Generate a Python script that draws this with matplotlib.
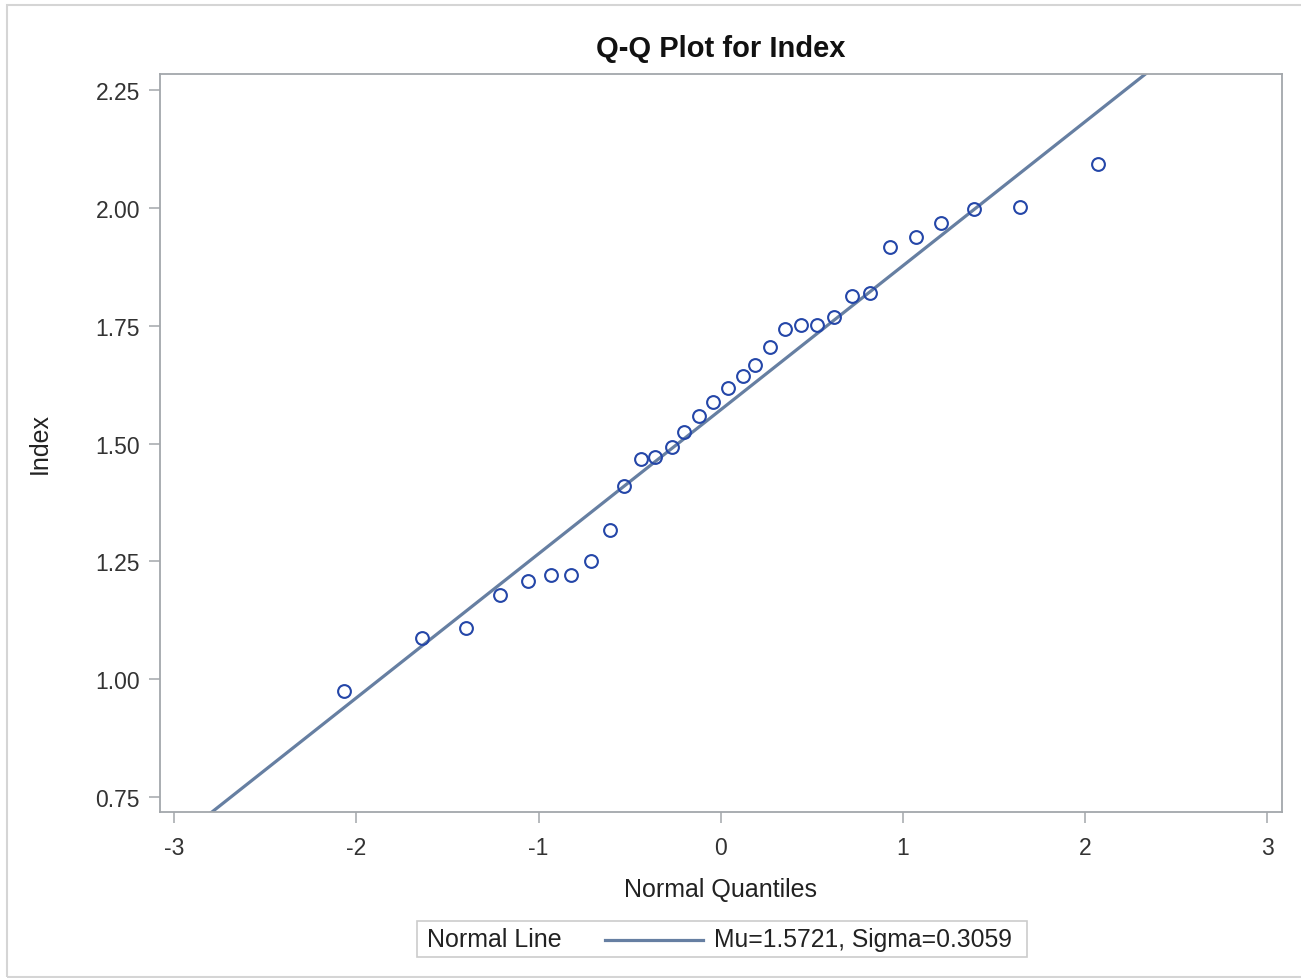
import matplotlib.pyplot as plt
from matplotlib.patches import Rectangle
from matplotlib.lines import Line2D

plt.rcParams['font.family'] = ['Liberation Sans', 'DejaVu Sans']

# quantiles normales (axe x) et valeurs observées (axe y)
quantiles = [-2.07, -1.64, -1.40, -1.21, -1.06, -0.93, -0.82, -0.71,
             -0.61, -0.53, -0.44, -0.36, -0.27, -0.20, -0.12, -0.04,
             0.04, 0.12, 0.19, 0.27, 0.35, 0.44, 0.53, 0.62,
             0.72, 0.82, 0.93, 1.07, 1.21, 1.39, 1.64, 2.07]
index_vals = [0.975, 1.087, 1.109, 1.178, 1.208, 1.221, 1.221, 1.251,
              1.316, 1.410, 1.467, 1.471, 1.493, 1.524, 1.558, 1.588,
              1.618, 1.643, 1.667, 1.705, 1.743, 1.751, 1.751, 1.768,
              1.813, 1.821, 1.917, 1.938, 1.968, 1.998, 2.002, 2.093]
mu = 1.5721
sigma = 0.3059

x_ticks = [-3, -2, -1, 0, 1, 2, 3]
y_ticks = [0.75, 1.00, 1.25, 1.50, 1.75, 2.00, 2.25]

W, H = 1301, 979
fig = plt.figure(figsize=(W / 100, H / 100), dpi=100)
ax = fig.add_axes([159.5 / W, 1 - 813 / H, (1282 - 159.5) / W, (813 - 75) / H])

line_color = '#667fa2'
dot_color = '#2446a8'
grey = '#a3a7ab'

# droite normale
xl = [-3.25, 3.25]
ax.plot(xl, [mu + sigma * v for v in xl], color=line_color, lw=2.3, zorder=2)
ax.plot(quantiles, index_vals, 'o', ms=9.2, mfc='none', mec=dot_color, mew=1.5, zorder=3)

ax.set_xlim(-3.08, 3.08)
ax.set_ylim(0.718, 2.285)
ax.set_xticks(x_ticks)
ax.set_xticklabels([str(t) for t in x_ticks])
ax.set_yticks(y_ticks)
ax.set_yticklabels(['%.2f' % t for t in y_ticks])

for s in ax.spines.values():
    s.set_color(grey)
    s.set_linewidth(1.3)
ax.tick_params(direction='out', length=8, width=1.1, color=grey,
               labelsize=16.5, labelcolor='#333333')
ax.tick_params(axis='x', pad=9)
ax.tick_params(axis='y', pad=6)

ax.set_title('Q-Q Plot for Index', fontsize=21, fontweight='bold', color='#111111', pad=13)
ax.set_xlabel('Normal Quantiles', fontsize=18, color='#222222')
ax.set_ylabel('Index', fontsize=18, color='#222222')
ax.xaxis.set_label_coords(0.5, -0.088)
ax.yaxis.set_label_coords(-0.096, 0.5)

# cadre extérieur
fig.patches.append(Rectangle((7 / W, 1 / H), 1.0, 1 - 7 / H, transform=fig.transFigure,
                             fill=False, ec='#d5d5d5', lw=1.5))

# légende
fig.patches.append(Rectangle((417 / W, 1 - 958 / H), (1027 - 417) / W, 36 / H,
                             transform=fig.transFigure, fill=False, ec='#cccccc', lw=1.2))
fig.text(427 / W, 1 - 940 / H, 'Normal Line', fontsize=18, color='#222222', va='center')
fig.lines.append(Line2D([605 / W, 703 / W], [1 - 941 / H, 1 - 941 / H],
                        transform=fig.transFigure, color=line_color, lw=2.3))
fig.text(714 / W, 1 - 940 / H, 'Mu=%.4f, Sigma=%.4f' % (mu, sigma), fontsize=17.8,
         color='#222222', va='center')

fig.savefig('out.png', dpi=100)
